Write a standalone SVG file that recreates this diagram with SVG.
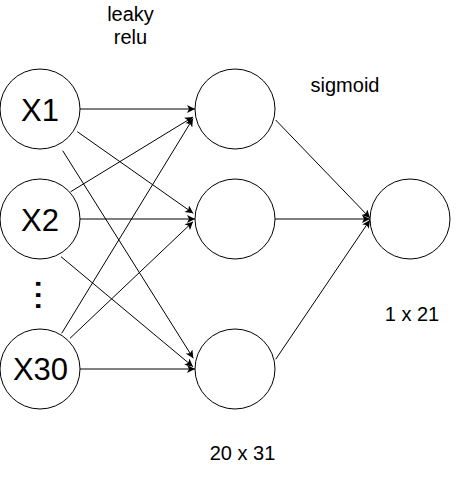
<svg xmlns="http://www.w3.org/2000/svg" width="461" height="488" viewBox="0 0 461 488">
<style>
.node{fill:#fff;stroke:#000;stroke-width:1}
.lbl{font-family:"Liberation Sans",Arial,sans-serif;fill:#000;text-anchor:middle}
.big{font-size:31px}
.small{font-size:20px}
.edge{stroke:#000;stroke-width:1;fill:none;marker-end:url(#arr)}
</style>
<defs>
<marker id="arr" markerUnits="userSpaceOnUse" viewBox="0 0 10 10" markerWidth="9" markerHeight="8" refX="10" refY="5" orient="auto">
<path d="M0,0 L10,5 L0,10 L2.5,5 z" fill="#000"/>
</marker>
</defs>
<rect width="461" height="488" fill="#fff"/>
<g id="connectors">
<line class="edge" x1="80" y1="109" x2="195" y2="109"/>
<line class="edge" x1="77.3" y1="131.7" x2="193.3" y2="213.3"/>
<line class="edge" x1="62.7" y1="150.7" x2="193.3" y2="358.3"/>
<line class="edge" x1="70.7" y1="191.7" x2="193" y2="117"/>
<line class="edge" x1="80" y1="219" x2="195" y2="219"/>
<line class="edge" x1="61" y1="256.7" x2="193" y2="366.7"/>
<line class="edge" x1="61.7" y1="333.3" x2="193" y2="118.5"/>
<line class="edge" x1="70" y1="338.3" x2="193" y2="221.7"/>
<line class="edge" x1="80" y1="369" x2="195" y2="369"/>
<line class="edge" x1="275.7" y1="120" x2="370" y2="218"/>
<line class="edge" x1="275" y1="219" x2="370" y2="219"/>
<line class="edge" x1="275.7" y1="359.3" x2="370" y2="220"/>
</g>
<g id="x1"><circle class="node" cx="40" cy="109" r="40"/><text class="lbl big" x="40" y="120.5">X1</text></g>
<g id="x2"><circle class="node" cx="40" cy="219" r="40"/><text class="lbl big" x="40" y="230.5">X2</text></g>
<g id="dots"><text class="lbl" font-size="40" transform="translate(35.5,295) rotate(90)" x="0" y="0">...</text></g>
<g id="x30"><circle class="node" cx="40" cy="369" r="40"/><text class="lbl big" x="40.5" y="380">X30</text></g>
<g id="h1"><circle class="node" cx="235" cy="109" r="40"/></g>
<g id="h2"><circle class="node" cx="235" cy="219" r="40"/></g>
<g id="h3"><circle class="node" cx="235" cy="369" r="40"/></g>
<g id="out"><circle class="node" cx="410" cy="219" r="40"/></g>
<g id="lbl-leaky"><text class="lbl small" x="130.5" y="21">leaky</text><text class="lbl small" x="130.5" y="44.3">relu</text></g>
<g id="lbl-sigmoid"><text class="lbl small" x="345" y="92.3">sigmoid</text></g>
<g id="lbl-1x21"><text class="lbl small" x="412" y="320.7">1 x 21</text></g>
<g id="lbl-20x31"><text class="lbl small" x="242.5" y="460">20 x 31</text></g>
</svg>
